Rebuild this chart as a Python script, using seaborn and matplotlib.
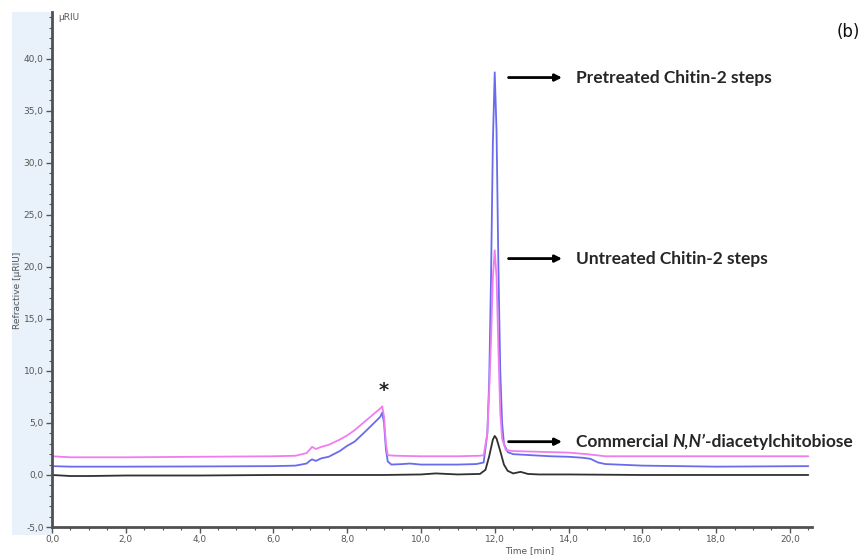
import numpy as np
import pandas as pd
import matplotlib
matplotlib.use("Agg")
import matplotlib.pyplot as plt
from matplotlib.patches import Rectangle
from matplotlib.ticker import MultipleLocator, FuncFormatter
import seaborn as sns

# traces (time in min, signal in uRIU)
pre_time = [0, 0.5, 2, 4, 6, 6.6, 6.9, 7.0, 7.05, 7.15, 7.3, 7.5, 7.8, 8.0, 8.2, 8.5, 8.7, 8.9, 8.95,
            9.0, 9.05, 9.1, 9.2, 9.5, 9.7, 10, 11, 11.5, 11.7, 11.8, 11.85, 11.9, 11.95, 12.0, 12.05,
            12.1, 12.15, 12.2, 12.25, 12.35, 12.5, 13, 13.5, 14, 14.4, 14.6, 14.8, 15, 16, 17, 18, 19, 20.5]
pre_sig = [0.85, 0.8, 0.8, 0.82, 0.85, 0.9, 1.1, 1.4, 1.5, 1.35, 1.6, 1.75, 2.3, 2.8, 3.2, 4.2, 4.9, 5.6, 6.0,
           5.0, 2.5, 1.3, 1.0, 1.05, 1.1, 1.0, 1.0, 1.05, 1.2, 4.0, 9.0, 19.0, 32.0, 38.7, 33.0,
           20.0, 10.0, 5.0, 3.0, 2.2, 2.0, 1.9, 1.8, 1.75, 1.65, 1.55, 1.2, 1.05, 0.9, 0.85, 0.8, 0.82, 0.85]

unt_time = [0, 0.5, 2, 4, 6, 6.6, 6.9, 7.0, 7.05, 7.15, 7.3, 7.5, 7.8, 8.0, 8.2, 8.5, 8.7, 8.9, 8.95,
            9.0, 9.05, 9.1, 9.3, 10, 11, 11.6, 11.7, 11.8, 11.85, 11.9, 11.95, 12.0, 12.05, 12.1, 12.15,
            12.2, 12.3, 12.5, 13, 13.5, 14, 14.5, 15, 16, 18, 20.5]
unt_sig = [1.8, 1.7, 1.7, 1.75, 1.8, 1.85, 2.1, 2.5, 2.7, 2.5, 2.7, 2.9, 3.4, 3.8, 4.3, 5.2, 5.8, 6.4, 6.6,
           5.6, 3.0, 1.9, 1.85, 1.8, 1.8, 1.85, 1.9, 4.0, 8.0, 13.0, 19.0, 21.6, 19.0, 12.0, 6.0,
           3.5, 2.4, 2.3, 2.25, 2.2, 2.15, 2.0, 1.8, 1.8, 1.8, 1.8]

com_time = [0, 0.5, 1, 2, 4, 6, 8, 9, 10, 10.4, 10.7, 11, 11.6, 11.75, 11.85, 11.95, 12.0, 12.05, 12.15,
            12.25, 12.35, 12.5, 12.7, 12.9, 13.2, 14, 16, 18, 20.5]
com_sig = [0.0, -0.1, -0.1, -0.05, -0.05, 0.0, 0.0, 0.0, 0.05, 0.15, 0.1, 0.05, 0.1, 0.5, 1.8, 3.4, 3.75, 3.5, 2.3,
           1.0, 0.4, 0.15, 0.3, 0.1, 0.05, 0.05, 0.0, 0.0, 0.0]

samples = ["Commercial", "Pretreated", "Untreated"]
colors = {"Commercial": "#303030", "Pretreated": "#6a6aee", "Untreated": "#f07cf0"}

df = pd.concat([
    pd.DataFrame({"time": com_time, "signal": com_sig, "sample": "Commercial"}),
    pd.DataFrame({"time": pre_time, "signal": pre_sig, "sample": "Pretreated"}),
    pd.DataFrame({"time": unt_time, "signal": unt_sig, "sample": "Untreated"}),
])

sns.set_style("white")
fig = plt.figure(figsize=(8.67, 5.58), dpi=100)
# light blue band behind the y tick labels
fig.patches.append(Rectangle((12 / 867, 23 / 558), 40 / 867, 523 / 558, transform=fig.transFigure,
                             facecolor="#e9f1fa", edgecolor="none", zorder=-5))
ax = fig.add_axes([52 / 867, 31 / 558, 760 / 867, 515 / 558])
ax.patch.set_alpha(0)

sns.lineplot(data=df, x="time", y="signal", hue="sample", hue_order=samples, palette=colors,
             estimator=None, sort=False, legend=False, linewidth=1.3, ax=ax)

ax.set_xlim(0, 20.6)
ax.set_ylim(-5, 44.5)
ax.xaxis.set_major_locator(MultipleLocator(2))
ax.xaxis.set_minor_locator(MultipleLocator(0.5))
ax.yaxis.set_major_locator(MultipleLocator(5))
ax.yaxis.set_minor_locator(MultipleLocator(1))
comma = FuncFormatter(lambda v, p: f"{v:.1f}".replace(".", ","))
ax.xaxis.set_major_formatter(comma)
ax.yaxis.set_major_formatter(comma)
ax.tick_params(axis="both", which="major", direction="out", length=4, width=1, color="#555555",
               labelsize=6.5, labelcolor="#555555", pad=2, left=True, bottom=True)
ax.tick_params(axis="both", which="minor", direction="out", length=2.5, width=0.8, color="#555555",
               left=True, bottom=True)
for s in ["top", "right"]:
    ax.spines[s].set_visible(False)
for s in ["left", "bottom"]:
    ax.spines[s].set_color("#505050")
    ax.spines[s].set_linewidth(2)

ax.set_xlabel("")
ax.set_ylabel("")
fig.text(18 / 867, 1 - 290 / 558, "Refractive [µRIU]", rotation=90, ha="center", va="center",
         fontsize=6.5, color="#555555")
fig.text(530 / 867, 1 - 551 / 558, "Time [min]", ha="center", va="center", fontsize=6.5, color="#555555")
fig.text(58 / 867, 1 - 17 / 558, "µRIU", ha="left", va="center", fontsize=6.5, color="#555555")
fig.text(848 / 867, 1 - 32 / 558, "(b)", ha="center", va="center", fontsize=12, color="#111111")

lab_font = "Lato"
lab_size = 12.5
arrow = dict(arrowstyle="-|>", color="black", lw=2, mutation_scale=10)
labels = [(38.2, "Pretreated Chitin-2 steps"), (20.8, "Untreated Chitin-2 steps")]
for y, txt in labels:
    ax.annotate("", xy=(13.9, y), xytext=(12.3, y), arrowprops=arrow)
    ax.text(14.2, y, txt, fontsize=lab_size, fontweight="bold", va="center", ha="left", family=lab_font)
ax.annotate("", xy=(13.9, 3.2), xytext=(12.3, 3.2), arrowprops=arrow)
t1 = ax.text(14.2, 3.2, "Commercial\u00a0", fontsize=lab_size, fontweight="bold", va="center", ha="left",
             family=lab_font)
t2 = ax.annotate("N,N\u2019", xy=(1, 0.5), xycoords=t1, va="center", ha="left", fontsize=lab_size,
                 fontweight="bold", fontstyle="italic", family=lab_font)
ax.annotate("-diacetylchitobiose", xy=(1, 0.5), xycoords=t2, va="center", ha="left", fontsize=lab_size,
            fontweight="bold", family=lab_font)
ax.text(8.98, 8.1, "*", fontsize=14, fontweight="bold", ha="center", va="center")

fig.savefig("out.png", dpi=100)
